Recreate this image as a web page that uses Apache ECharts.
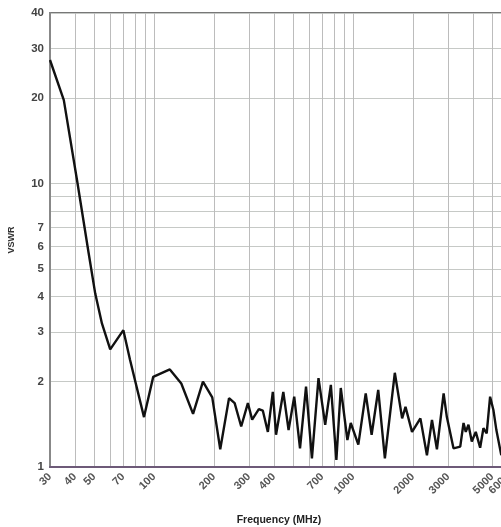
<!DOCTYPE html>
<html>
<head>
<meta charset="utf-8">
<script src="https://cdn.jsdelivr.net/npm/echarts@6/dist/echarts.min.js"></script>
<style>
html,body{margin:0;padding:0;background:#fff;}
#chart{width:501px;height:527px;}
</style>
</head>
<body>
<div id="chart"></div>
<script>
// Frequency (MHz) and VSWR values
var freqs = [30, 35.2, 41, 46.9, 50.6, 54.7, 60.2, 70.1, 75.7, 89, 99, 120, 137, 157, 176, 196, 215, 238, 254, 274, 296, 311, 336, 352, 373, 395, 410, 446, 474, 506, 541, 580, 621, 670, 724, 773, 824, 867, 936, 973, 1062, 1157, 1239, 1337, 1444, 1620, 1763, 1833, 1977, 2178, 2349, 2490, 2637, 2849, 2958, 3194, 3453, 3587, 3681, 3798, 3946, 4132, 4347, 4515, 4689, 4878, 5067, 5245, 5553];
var vswr = [27.3, 19.7, 10.3, 5.69, 4.1, 3.21, 2.6, 3.04, 2.39, 1.5, 2.08, 2.21, 1.97, 1.54, 2.0, 1.76, 1.155, 1.75, 1.68, 1.39, 1.68, 1.47, 1.6, 1.58, 1.33, 1.84, 1.3, 1.84, 1.35, 1.77, 1.164, 1.92, 1.073, 2.06, 1.41, 1.95, 1.06, 1.9, 1.245, 1.43, 1.2, 1.82, 1.3, 1.87, 1.073, 2.15, 1.485, 1.63, 1.33, 1.485, 1.1, 1.465, 1.155, 1.82, 1.5, 1.164, 1.18, 1.43, 1.33, 1.41, 1.23, 1.33, 1.17, 1.37, 1.315, 1.77, 1.59, 1.35, 1.1];

var xLabels = [30, 40, 50, 70, 100, 200, 300, 400, 700, 1000, 2000, 3000, 5000, 6000];
var xGrid = [30, 40, 50, 60, 70, 80, 90, 100, 200, 300, 400, 500, 600, 700, 800, 900, 1000, 2000, 3000, 4000, 5000, 6000];
var yLabels = [1, 2, 3, 4, 5, 6, 7, 10, 20, 30, 40];
var yGrid = [1, 2, 3, 4, 5, 6, 7, 8, 9, 10, 20, 30, 40];

var pts = freqs.map(function (f, i) { return [f, vswr[i]]; });

var chart = echarts.init(document.getElementById('chart'));
chart.setOption({
  animation: false,
  backgroundColor: '#ffffff',
  grid: {
    left: 50, top: 13, right: -7, bottom: 60,
    outerBoundsMode: 'none', containLabel: false,
    show: true, borderColor: '#777', borderWidth: 2, backgroundColor: 'transparent'
  },
  xAxis: {
    type: 'log', logBase: 10, min: 30, max: 6000,
    name: 'Frequency (MHz)', nameLocation: 'middle', nameGap: 48,
    nameTextStyle: { fontFamily: 'Liberation Sans', fontWeight: 'bold', fontSize: 10.5, color: '#222' },
    axisLine: { show: true, lineStyle: { color: '#6d5a78', width: 2 } },
    axisTick: { show: false, customValues: xGrid },
    axisLabel: {
      customValues: xLabels, rotate: 45, margin: 8, hideOverlap: false,
      formatter: function (v) { return String(Math.round(v)); },
      fontFamily: 'Liberation Sans', fontWeight: 'bold', fontSize: 11, color: '#555'
    },
    splitLine: { show: true, lineStyle: { color: '#bcbcbc', width: 1 } }
  },
  yAxis: {
    type: 'log', logBase: 10, min: 1, max: 40,
    name: 'VSWR', nameLocation: 'middle', nameGap: 34, nameRotate: 90,
    nameTextStyle: { fontFamily: 'Liberation Sans', fontWeight: 'bold', fontSize: 9, color: '#333' },
    axisLine: { show: true, lineStyle: { color: '#888', width: 2 } },
    axisTick: { show: false, customValues: yGrid },
    axisLabel: {
      customValues: yLabels, margin: 6,
      formatter: function (v) { return String(Math.round(v)); },
      fontFamily: 'Liberation Sans', fontWeight: 'bold', fontSize: 11.5, color: '#444'
    },
    splitLine: { show: true, lineStyle: { color: '#c6c9c6', width: 1 } }
  },
  series: [{
    type: 'line',
    data: pts,
    symbol: 'none',
    smooth: false,
    lineStyle: { color: '#111', width: 2.4 }
  }]
});
</script>
</body>
</html>
